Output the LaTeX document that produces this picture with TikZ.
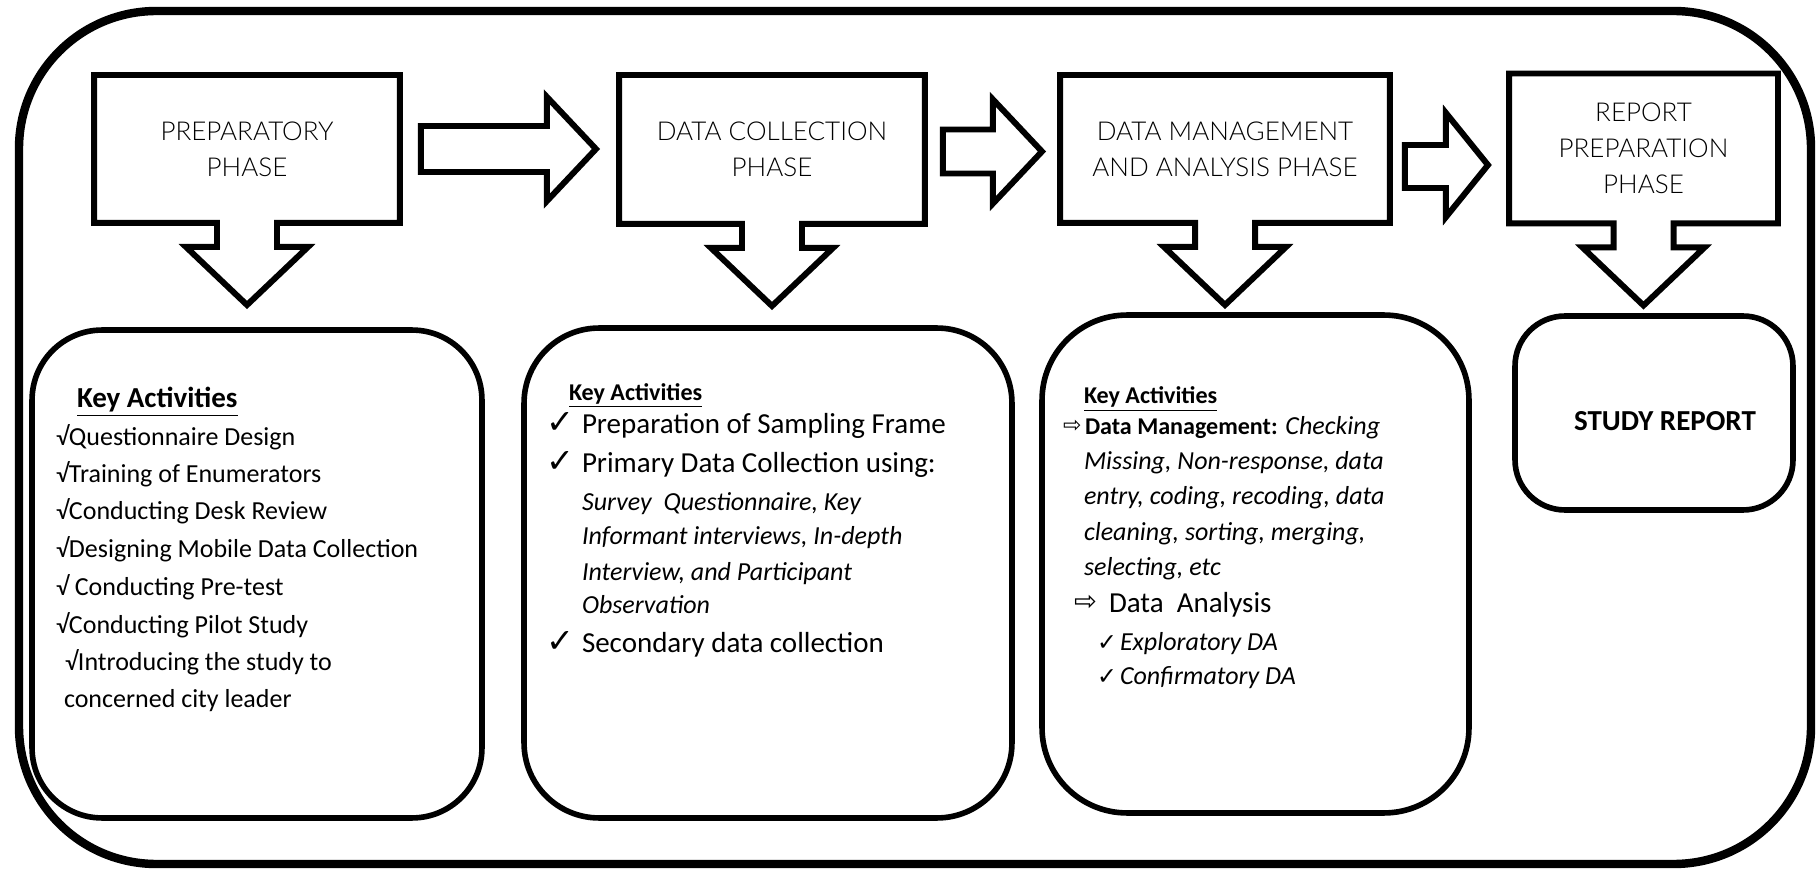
\documentclass[tikz,border=0pt]{standalone}
\usepackage{fontspec}
\setmainfont{Carlito}
\newfontfamily\dejavu{DejaVu Sans}
\newfontfamily\lightfont{Lato Light}

\begin{document}
\begin{tikzpicture}[x=0.02cm,y=-0.02cm,
    phase/.style={minimum width=#1, align=center, inner sep=0pt, outer sep=0pt,
      font=\lightfont\fontsize{14.8}{20.5}\selectfont},
    outline/.style={line width=3.4pt, line join=miter},
    keybox/.style={draw, line width=3.2pt, inner sep=0pt, outer sep=0pt},
    txt/.style={anchor=base west, inner sep=0pt, outer sep=0pt},
    head/.style={txt, font=\bfseries\fontsize{#1}{#1}\selectfont}]
\useasboundingbox (0,0) rectangle (1819,871);

% outer frame
\draw[line width=4.8pt, rounded corners=2.75cm] (19,11) rectangle (1811,864);

% phases
\node[phase=6.12cm, minimum height=2.96cm] (p1) at (247,149) {PREPARATORY\\PHASE};
\node[phase=6.12cm, minimum height=2.98cm] (p2) at (772,149.5) {DATA COLLECTION\\PHASE};
\node[phase=6.6cm, minimum height=2.96cm] (p3) at (1225,149) {DATA MANAGEMENT\\AND ANALYSIS PHASE};
\node[phase=5.38cm, minimum height=3cm] (p4) at (1643.5,148.5) {REPORT\\PREPARATION\\PHASE};

% phase outlines with the arrow down
\foreach \p in {p1,p2,p3,p4}
  \draw[outline] (\p.south) ++(-30,0) -- ++(0,24) -- ++(-31,0) -- ++(61,58) -- ++(61,-58)
    -- ++(-31,0) -- ++(0,-24) -- (\p.south east) -- (\p.north east) -- (\p.north west)
    -- (\p.south west) -- cycle;

% arrows between phases
\draw[outline] (p1.east) ++(21,-23) -- ++(126,0) -- ++(0,-29) -- ++(49,52) -- ++(-49,52)
  -- ++(0,-29) -- ++(-126,0) -- cycle;
\draw[outline] (p2.east) ++(18,-20) -- ++(50,0) -- ++(0,-30) -- ++(49,52) -- ++(-49,52)
  -- ++(0,-30) -- ++(-50,0) -- cycle;
\draw[outline] (p3.east) ++(15,-4) -- ++(41,0) -- ++(0,-32) -- ++(42,52) -- ++(-42,52)
  -- ++(0,-29) -- ++(-41,0) -- cycle;

% key activity boxes
\node[keybox, minimum width=9cm, minimum height=9.76cm, rounded corners=1.4cm] (ka) at (257,574) {};
\node[keybox, minimum width=9.76cm, minimum height=9.8cm, rounded corners=1.5cm] (kb) at (768,573) {};
\node[keybox, minimum width=8.54cm, minimum height=9.96cm, rounded corners=1.7cm] (kc) at (1255.5,564) {};
\node[keybox, minimum width=5.56cm, minimum height=3.88cm, rounded corners=1cm] (kd) at (1654,413) {};

% preparatory
\node[head=16.5] (ka-h) at (77,408) {\underline{Key Activities}};
\foreach \x/\y/\t [count=\i] in {56/445/{√Questionnaire Design}, 56/482/{√Training of Enumerators},
    56/520/{√Conducting Desk Review}, 56/557/{√Designing Mobile Data Collection},
    56/595/{√ Conducting Pre-test}, 56/633/{√Conducting Pilot Study},
    65/670/{√Introducing the study to}, 64/707/{concerned city leader}}
  \node[txt, font=\fontsize{14.8}{18}\selectfont] (ka-\i) at (\x,\y) {\t};

% data collection
\node[head=13.7] (kb-h) at (569,400) {\underline{Key Activities}};
\foreach \y/\t [count=\i] in {434/{Preparation of Sampling Frame}, 472/{Primary Data Collection using:},
    652/{Secondary data collection}} {
  \node[txt, font=\dejavu\fontsize{19}{19}\selectfont] (kb-c\i) at (546,\y) {✓};
  \node[txt, font=\fontsize{16.5}{20}\selectfont] (kb-\i) at (582,\y) {\t};
}
\foreach \y/\t [count=\i] in {510/{Survey\ \ Questionnaire, Key}, 544/{Informant interviews, In-depth},
    580/{Interview, and Participant}, 613/{Observation}}
  \node[txt, font=\itshape\fontsize{14.8}{18}\selectfont] (kb-s\i) at (582,\y) {\t};

% data management and analysis
\node[head=13.7] (kc-h) at (1084,404) {\underline{Key Activities}};
\node[txt, font=\dejavu\fontsize{12.5}{13}\selectfont] (kc-a1) at (1063,433) {⇨};
\node[txt, font=\fontsize{14.8}{18}\selectfont] (kc-1) at (1085,435)
  {{\bfseries\fontsize{13.7}{16}\selectfont Data Management:} \textit{Checking}};
\foreach \y/\t [count=\i from 2] in {469/{Missing, Non-response, data}, 504/{entry, coding, recoding, data},
    540/{cleaning, sorting, merging,}, 575/{selecting, etc}}
  \node[txt, font=\itshape\fontsize{14.8}{18}\selectfont] (kc-\i) at (1084,\y) {\t};
\node[txt, font=\dejavu\fontsize{15.5}{16}\selectfont] (kc-a2) at (1074,610) {⇨};
\node[txt, font=\fontsize{16.5}{20}\selectfont] (kc-da) at (1109,612) {Data\ \ Analysis};
\foreach \y/\t [count=\i] in {650/{Exploratory DA}, 684/{Confirmatory DA}} {
  \node[txt, font=\dejavu\fontsize{13.5}{14}\selectfont] (kc-c\i) at (1097,\y) {✓};
  \node[txt, font=\itshape\fontsize{14.8}{18}\selectfont] (kc-e\i) at (1120,\y) {\t};
}

% report
\node[anchor=base, inner sep=0pt, font=\bfseries\fontsize{16.5}{20}\selectfont] (kd-t) at (1665,431) {STUDY REPORT};
\end{tikzpicture}
\end{document}
